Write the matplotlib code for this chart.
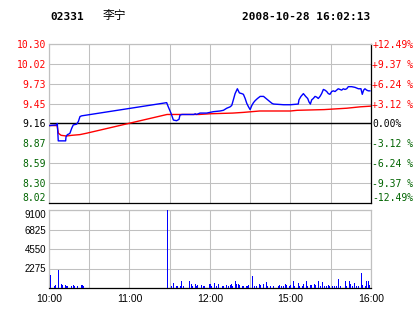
import numpy as np
import matplotlib.pyplot as plt

# ---- data ----
prev_close = 9.16
pct_levels = [-12.49, -9.37, -6.24, -3.12, 0.00, 3.12, 6.24, 9.37, 12.49]
price_labels = ['8.02', '8.30', '8.59', '8.87', '9.16', '9.45', '9.73', '10.02', '10.30']
pct_labels = ['-12.49%', '-9.37 %', '-6.24 %', '-3.12 %', '0.00%',
              '+3.12 %', '+6.24 %', '+9.37 %', '+12.49%']

# minutes since 10:00 (12:30 -> 14:30 squeezed out), price
price_min = [0, 5.7, 6.2, 6.9, 12.4, 12.7, 13.7, 14.9, 15.6, 16.9, 18.1, 20.6, 21.9, 23.1, 24.3,
             87.7, 88.9, 90.9, 92.7, 95.1, 96.9, 97.6, 99, 108, 109, 110, 112.5, 117.5, 120,
             122.5, 127.5, 130, 132.5, 135, 136.2, 137.4, 138.7, 140.4, 141.9, 143.7, 144.9,
             146.2, 147.4, 148.7, 149.9, 151.2, 152.4, 153.7, 155.4, 157.4, 159.9, 162.4,
             164.9, 166.2, 167.4, 174.9, 179.9, 185.8, 186.3, 187.8, 189.6, 191.3, 192.8,
             193.8, 194.8, 195.8, 197, 198.3, 199.5, 200.7, 202, 203.2, 204.5, 205.7, 207,
             208.2, 209.4, 210.7, 211.9, 213.2, 214.4, 215.6, 216.9, 218.1, 219.4, 220.6,
             221.9, 223.1, 225.6, 228.1, 230.6, 232.5, 233.5, 234.5, 235.5, 236.8, 238, 239.2]
price = [9.13, 9.14, 9.16, 8.91, 8.91, 8.97, 9.00, 9.01, 9.02, 9.09, 9.14, 9.15, 9.19, 9.26, 9.27,
         9.46, 9.40, 9.31, 9.21, 9.20, 9.22, 9.28, 9.29, 9.29, 9.30, 9.29, 9.31, 9.31, 9.32,
         9.33, 9.34, 9.35, 9.38, 9.40, 9.42, 9.50, 9.59, 9.66, 9.60, 9.59, 9.58,
         9.52, 9.45, 9.40, 9.36, 9.42, 9.46, 9.49, 9.52, 9.55, 9.55, 9.51,
         9.47, 9.45, 9.44, 9.43, 9.43, 9.44, 9.50, 9.55, 9.59, 9.55, 9.52,
         9.47, 9.44, 9.50, 9.52, 9.55, 9.54, 9.52, 9.55, 9.59, 9.65, 9.64, 9.62,
         9.59, 9.58, 9.62, 9.63, 9.62, 9.64, 9.66, 9.65, 9.64, 9.66, 9.65,
         9.66, 9.69, 9.69, 9.68, 9.66, 9.66, 9.58, 9.64, 9.66, 9.64, 9.63, 9.63]

avg_min = [0, 6, 7, 9, 13, 17, 23, 28, 88, 112, 120, 137, 145, 157, 180, 185, 205, 222, 232, 240]
avg_price = [9.13, 9.13, 9.02, 8.99, 8.98, 8.99, 9.00, 9.02, 9.29, 9.29, 9.30, 9.31, 9.32,
             9.34, 9.34, 9.35, 9.36, 9.38, 9.40, 9.41]

vol_min = [1, 4, 5, 7, 9, 10, 12, 13, 14, 17, 18, 19, 21, 24, 25, 26,
           88, 91, 93, 95, 96, 98, 99, 100, 105, 106, 107, 109, 110, 111, 114, 115, 116,
           120, 121, 123, 125, 126, 129, 130, 132, 134, 135, 136, 137, 139, 140, 141, 142,
           144, 145, 147, 148, 149, 152, 153, 155, 157, 158, 160, 162, 163, 165, 167, 171,
           172, 173, 175, 176, 177, 179, 180, 182, 183, 186, 187, 189, 190, 192, 193, 195,
           196, 198, 199, 201, 202, 204, 205, 207, 208, 209, 211, 213, 214, 216, 217, 221,
           222, 224, 225, 226, 228, 229, 231, 233, 234, 236, 237, 238, 239]
volume = [1500, 200, 315, 2090, 510, 390, 315, 235, 200, 235, 390, 200, 200, 390, 315, 200,
          9100, 275, 590, 275, 275, 275, 785, 275, 785, 470, 275, 470, 275, 395, 395, 275, 275,
          470, 275, 590, 275, 470, 275, 275, 395, 275, 395, 470, 275, 865, 470, 470, 315,
          275, 275, 275, 275, 395, 1455, 275, 275, 470, 395, 470, 710, 275, 275, 275, 275,
          395, 275, 275, 470, 395, 275, 395, 785, 275, 590, 275, 275, 470, 785, 275, 395,
          395, 470, 395, 865, 275, 710, 275, 275, 395, 275, 275, 275, 275, 1100, 275, 785,
          275, 865, 470, 275, 590, 275, 275, 1770, 395, 275, 785, 865, 395]

vol_ticks = [0, 2275, 4550, 6825, 9100]
time_labels = ['10:00', '', '11:00', '', '12:00', '', '15:00', '', '16:00']

GRID = '#c0c0c0'
GREEN = '#006400'

W, H = 414, 314
fig = plt.figure(figsize=(W / 100, H / 100), dpi=100)
fig.patch.set_facecolor('white')

left, right = 49 / W, 371 / W
ax = fig.add_axes([left, 1 - 203 / H, right - left, (203 - 44) / H])
axv = fig.add_axes([left, 1 - 288 / H, right - left, (288 - 210) / H])


def colour_of(p):
    return 'red' if p > 0 else ('black' if p == 0 else GREEN)


# ---- price panel ----
levels = [prev_close * (1 + p / 100) for p in pct_levels]
ax.set_xlim(0, 240)
ax.set_ylim(levels[0], levels[-1])
ax.set_xticks(np.arange(0, 241, 30))
ax.set_xticklabels([])
ax.set_yticks(levels)
ax.set_yticklabels(price_labels, family='DejaVu Sans Mono', fontsize=7)
ax.tick_params(length=0, pad=2)
ax.grid(True, color=GRID, lw=0.75)
ax.axhline(prev_close, color='black', lw=1, zorder=2)
for lab, p in zip(ax.get_yticklabels(), pct_levels):
    lab.set_color(colour_of(p))
ax.get_yticklabels()[0].set_va('bottom')

ax.plot(avg_min, avg_price, color='red', lw=1, zorder=3)
ax.plot(price_min, price, color='blue', lw=1, zorder=4)

for s in ['top', 'left']:
    ax.spines[s].set_color(GRID)
ax.spines['right'].set_color('black')
ax.spines['bottom'].set_color('black')
for s in ax.spines.values():
    s.set_linewidth(0.9)

axr = ax.twinx()
axr.set_ylim(ax.get_ylim())
axr.set_yticks(levels)
axr.set_yticklabels(pct_labels, family='DejaVu Sans Mono', fontsize=7)
axr.tick_params(length=0, pad=1)
for lab, p in zip(axr.get_yticklabels(), pct_levels):
    lab.set_color(colour_of(p))
axr.get_yticklabels()[0].set_va('bottom')
for s in axr.spines.values():
    s.set_visible(False)

# ---- volume panel ----
axv.bar(vol_min, volume, width=0.75, color='blue', align='center', zorder=3)
axv.set_xlim(0, 240)
axv.set_ylim(0, 9100)
axv.set_yticks(vol_ticks)
axv.set_yticklabels([''] + [str(v) for v in vol_ticks[1:]], family='Liberation Sans', fontsize=7)
axv.get_yticklabels()[-1].set_va('top')
axv.set_xticks(np.arange(0, 241, 30))
axv.set_xticklabels(time_labels, family='Liberation Sans', fontsize=7.5)
axv.tick_params(length=0, pad=2)
axv.tick_params(axis='x', pad=4)
axv.grid(True, color=GRID, lw=0.75)
for s in ['top', 'left', 'right']:
    axv.spines[s].set_color(GRID)
axv.spines['bottom'].set_color('black')
for s in axv.spines.values():
    s.set_linewidth(0.9)

# ---- header ----
fig.text(50 / W, 1 - 17 / H, '02331', family='DejaVu Sans Mono', weight='bold',
         fontsize=8, va='center', ha='left')
fig.text(103 / W, 1 - 16 / H, '李宁', family=['Noto Sans CJK SC', 'DejaVu Sans'],
         fontsize=8.5, va='center', ha='left')
fig.text(370 / W, 1 - 17 / H, '2008-10-28 16:02:13', family='DejaVu Sans Mono',
         weight='bold', fontsize=8, va='center', ha='right')

fig.savefig('out.png', dpi=100)
